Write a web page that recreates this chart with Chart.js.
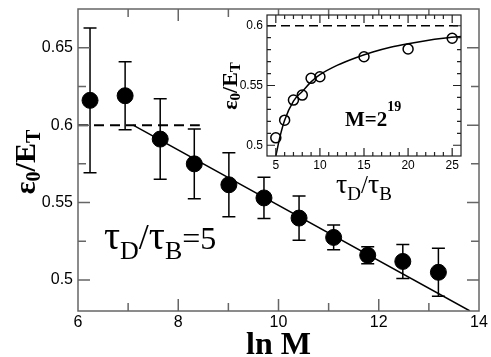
<!DOCTYPE html>
<html>
<head>
<meta charset="utf-8">
<script src="https://cdn.jsdelivr.net/npm/chart.js@4.4.1/dist/chart.umd.min.js"></script>
<style>
  html, body { margin: 0; padding: 0; background: #fff; }
  #wrap { position: relative; width: 491px; height: 357px; }
  #wrap canvas { position: absolute; left: 0; top: 0; }
</style>
</head>
<body>
<div id="wrap">
  <canvas id="mainChart" width="491" height="357"></canvas>
  <canvas id="insetChart" width="491" height="357"></canvas>
</div>
<script>
"use strict";

// main panel: eps0/ET against ln M, tauD/tauB = 5
const lnM = [6.24, 6.94, 7.64, 8.32, 9.01, 9.71, 10.41, 11.10, 11.78, 12.48, 13.19];
const eps = [0.616, 0.619, 0.591, 0.575, 0.5615, 0.553, 0.540, 0.5275, 0.516, 0.512, 0.505];
const epsErr = [0.0467, 0.022, 0.026, 0.0225, 0.0207, 0.0133, 0.0143, 0.008, 0.0055, 0.011, 0.0155];
const fitX = [7.1, 13.82];
const fitY = [0.6, 0.48];
const plateauX = [6, 8.43];
const plateauY = [0.6, 0.6];
const mainXTicks = [6, 8, 10, 12, 14];
const mainYTicks = [0.5, 0.55, 0.6, 0.65];

// inset: M = 2^19, eps0/ET against tauD/tauB
const tauRatio = [5, 6, 7, 8, 9, 10, 15, 20, 25];
const epsInset = [0.5062, 0.521, 0.5378, 0.542, 0.556, 0.5573, 0.5741, 0.5805, 0.5895];
const curveX = [5, 5.5, 6, 7, 8, 9, 10, 12, 14, 16, 18, 20, 22, 24, 26];
const curveY = [0.491, 0.508, 0.521, 0.537, 0.545, 0.553, 0.559, 0.567, 0.573, 0.578, 0.582, 0.585, 0.5875, 0.5895, 0.591];
const insetPlateauX = [4, 26];
const insetPlateauY = [0.6, 0.6];
const insetXTicks = [5, 10, 15, 20, 25];
const insetYTicks = [0.5, 0.55, 0.6];

const pts = (xs, ys) => xs.map((v, i) => ({ x: v, y: ys[i] }));

Chart.defaults.font.family = "'Liberation Sans', Arial, sans-serif";
Chart.defaults.color = "#000";

const SERIF = "'Liberation Serif', 'Times New Roman', serif";

function drawRich(ctx, parts, x, y, align) {
    const fontOf = (p) => `${p.bold ? "bold " : ""}${p.size}px ${SERIF}`;
    let total = 0;
    parts.forEach((p) => { ctx.font = fontOf(p); total += ctx.measureText(p.t).width; });
    let cx = align === "center" ? x - total / 2 : x;
    ctx.textBaseline = "alphabetic";
    ctx.textAlign = "left";
    parts.forEach((p) => {
        ctx.font = fontOf(p);
        ctx.fillText(p.t, cx, y + (p.dy || 0));
        cx += ctx.measureText(p.t).width;
    });
}

const textPlugin = {
    id: "richText",
    afterDraw(chart, args, opts) {
        const ctx = chart.ctx;
        ctx.save();
        ctx.fillStyle = "#000";
        (opts.items || []).forEach((it) => {
            if (it.rotate) {
                ctx.save();
                ctx.translate(it.x, it.y);
                ctx.rotate(-Math.PI / 2);
                drawRich(ctx, it.parts, 0, 0, "center");
                ctx.restore();
            } else {
                drawRich(ctx, it.parts, it.x, it.y, it.align || "left");
            }
        });
        ctx.restore();
    }
};

// box round the plot area with inward ticks on all four sides
const framePlugin = {
    id: "frame",
    beforeDatasetsDraw(chart, args, opts) {
        if (!opts.fill) return;
        const a = chart.chartArea;
        chart.ctx.save();
        chart.ctx.fillStyle = opts.fill;
        chart.ctx.fillRect(a.left, a.top, a.width, a.height);
        chart.ctx.restore();
    },
    afterDatasetsDraw(chart, args, opts) {
        const { ctx, chartArea: a, scales: { x, y } } = chart;
        const isMajor = (scale, v) => scale.ticks.some((t) => Math.abs(t.value - v) < 1e-6);
        ctx.save();
        ctx.strokeStyle = opts.color;
        ctx.lineWidth = opts.width;
        ctx.beginPath();
        for (let k = Math.ceil(x.min / opts.xStep - 1e-6); k * opts.xStep <= x.max + 1e-6; k++) {
            const v = k * opts.xStep;
            const px = x.getPixelForValue(v);
            if (px < a.left + 1 || px > a.right - 1) continue;
            const len = isMajor(x, v) ? opts.major : opts.minor;
            ctx.moveTo(px, a.bottom); ctx.lineTo(px, a.bottom - len);
            ctx.moveTo(px, a.top); ctx.lineTo(px, a.top + len);
        }
        for (let k = Math.ceil(y.min / opts.yStep - 1e-6); k * opts.yStep <= y.max + 1e-6; k++) {
            const v = k * opts.yStep;
            const py = y.getPixelForValue(v);
            if (py < a.top + 1 || py > a.bottom - 1) continue;
            const len = isMajor(y, v) ? opts.major : opts.minor;
            ctx.moveTo(a.left, py); ctx.lineTo(a.left + len, py);
            ctx.moveTo(a.right, py); ctx.lineTo(a.right - len, py);
        }
        ctx.stroke();
        ctx.strokeRect(a.left, a.top, a.width, a.height);
        ctx.restore();
    }
};

const errorBarPlugin = {
    id: "errorBars",
    beforeDatasetsDraw(chart, args, opts) {
        if (!opts.err) return;
        const { ctx, scales: { x, y } } = chart;
        const data = chart.data.datasets[opts.datasetIndex].data;
        ctx.save();
        ctx.strokeStyle = "#000";
        ctx.lineWidth = opts.width;
        ctx.beginPath();
        data.forEach((d, i) => {
            const px = x.getPixelForValue(d.x);
            const top = y.getPixelForValue(d.y + opts.err[i]);
            const bot = y.getPixelForValue(d.y - opts.err[i]);
            ctx.moveTo(px, top); ctx.lineTo(px, bot);
            ctx.moveTo(px - opts.cap, top); ctx.lineTo(px + opts.cap, top);
            ctx.moveTo(px - opts.cap, bot); ctx.lineTo(px + opts.cap, bot);
        });
        ctx.stroke();
        ctx.restore();
    }
};

function axis(min, max, tickValues, fontSize, pad, fixed, horizontal) {
    return {
        type: "linear",
        min: min,
        max: max,
        grid: { display: false, drawTicks: false },
        border: { display: false },
        afterBuildTicks: (s) => { s.ticks = tickValues.map((v) => ({ value: v })); },
        afterFit: (s) => {
            if (horizontal) { s.height = fixed; s.paddingLeft = 0; s.paddingRight = 0; }
            else { s.width = fixed; s.paddingTop = 0; s.paddingBottom = 0; }
        },
        ticks: {
            autoSkip: false,
            maxRotation: 0,
            padding: pad,
            color: "#000",
            font: { size: fontSize },
            callback: (v) => String(v)
        }
    };
}

new Chart(document.getElementById("mainChart"), {
    type: "scatter",
    data: {
        datasets: [
            {
                data: pts(lnM, eps),
                pointRadius: 8,
                pointBackgroundColor: "#000",
                pointBorderColor: "#000",
                pointBorderWidth: 1
            },
            {
                data: pts(fitX, fitY),
                showLine: true,
                borderColor: "#000",
                borderWidth: 1.5,
                pointRadius: 0
            },
            {
                data: pts(plateauX, plateauY),
                showLine: true,
                borderColor: "#000",
                borderWidth: 2,
                borderDash: [10, 6],
                pointRadius: 0
            }
        ]
    },
    options: {
        responsive: false,
        animation: false,
        devicePixelRatio: 1,
        layout: { padding: { left: 0, right: 12, top: 1, bottom: 0 } },
        scales: {
            x: axis(6, 14, mainXTicks, 16, 2, 46, true),
            y: axis(0.48, 0.675, mainYTicks, 16, 5, 78, false)
        },
        plugins: {
            legend: { display: false },
            tooltip: { enabled: false },
            frame: { color: "#666", width: 1.5, major: 12, minor: 8, xStep: 1, yStep: 0.025 },
            errorBars: { datasetIndex: 0, err: epsErr, cap: 6.5, width: 1.5 },
            richText: {
                items: [
                    {
                        rotate: true, x: 35, y: 162,
                        parts: [
                            { t: "ε", size: 30, bold: true },
                            { t: "0", size: 20, bold: true, dy: 5 },
                            { t: "/", size: 30, bold: true },
                            { t: "E", size: 30, bold: true },
                            { t: "T", size: 20, bold: true, dy: 5 }
                        ]
                    },
                    { x: 278.5, y: 354, align: "center", parts: [{ t: "ln M", size: 32, bold: true }] },
                    {
                        x: 104, y: 249,
                        parts: [
                            { t: "τ", size: 40 },
                            { t: "D", size: 26, dy: 10 },
                            { t: "/", size: 36 },
                            { t: "τ", size: 40 },
                            { t: "B", size: 26, dy: 10 },
                            { t: "=5", size: 32 }
                        ]
                    }
                ]
            }
        }
    },
    plugins: [framePlugin, errorBarPlugin, textPlugin]
});

new Chart(document.getElementById("insetChart"), {
    type: "scatter",
    data: {
        datasets: [
            {
                data: pts(tauRatio, epsInset),
                pointRadius: 5,
                pointBackgroundColor: "rgba(255,255,255,0)",
                pointBorderColor: "#000",
                pointBorderWidth: 1.5
            },
            {
                data: pts(curveX, curveY),
                showLine: true,
                cubicInterpolationMode: "monotone",
                borderColor: "#000",
                borderWidth: 1.5,
                pointRadius: 0
            },
            {
                data: pts(insetPlateauX, insetPlateauY),
                showLine: true,
                borderColor: "#000",
                borderWidth: 1.5,
                borderDash: [9, 5],
                pointRadius: 0
            }
        ]
    },
    options: {
        responsive: false,
        animation: false,
        devicePixelRatio: 1,
        layout: { padding: { left: 227, right: 30, top: 15, bottom: 171 } },
        scales: {
            x: axis(4, 26, insetXTicks, 12, 2, 30, true),
            y: axis(0.491, 0.609, insetYTicks, 12, 4, 40, false)
        },
        plugins: {
            legend: { display: false },
            tooltip: { enabled: false },
            frame: { color: "#222", width: 1.2, major: 8, minor: 4, xStep: 1, yStep: 0.01, fill: "#fff" },
            errorBars: {},
            richText: {
                items: [
                    {
                        rotate: true, x: 237, y: 86,
                        parts: [
                            { t: "ε", size: 22, bold: true },
                            { t: "0", size: 15, bold: true, dy: 3 },
                            { t: "/", size: 22, bold: true },
                            { t: "E", size: 22, bold: true },
                            { t: "T", size: 15, bold: true, dy: 3 }
                        ]
                    },
                    {
                        x: 364, y: 193, align: "center",
                        parts: [
                            { t: "τ", size: 28 },
                            { t: "D", size: 19, dy: 7 },
                            { t: "/", size: 25 },
                            { t: "τ", size: 28 },
                            { t: "B", size: 19, dy: 7 }
                        ]
                    },
                    {
                        x: 345, y: 126,
                        parts: [
                            { t: "M=2", size: 21, bold: true },
                            { t: "19", size: 14, bold: true, dy: -15 }
                        ]
                    }
                ]
            }
        }
    },
    plugins: [framePlugin, errorBarPlugin, textPlugin]
});
</script>
</body>
</html>
